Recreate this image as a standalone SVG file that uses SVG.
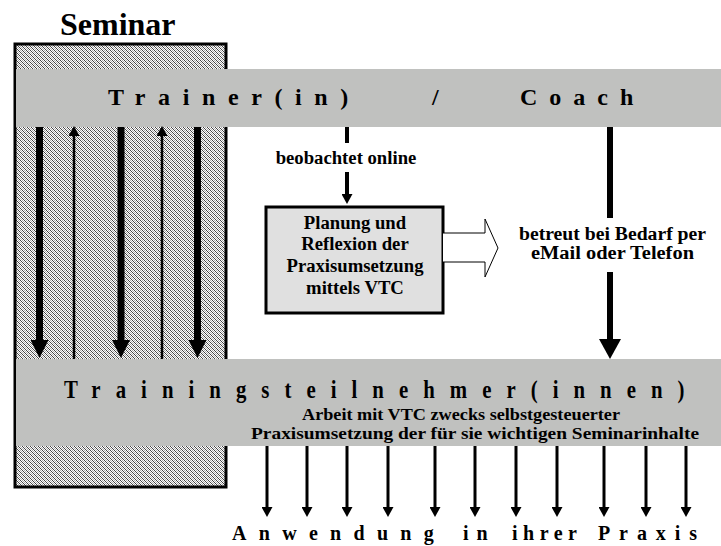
<svg xmlns="http://www.w3.org/2000/svg" width="721" height="546" viewBox="0 0 721 546">
<style>
text{font-family:'Liberation Serif','Times New Roman','DejaVu Serif',serif;font-weight:bold;fill:#000}
.bar{fill:#c0c1bf}
.t1{font-size:24px}
.t2{font-size:18.7px}
.t4{font-size:17px}
.t3{font-size:20px}
.c{stroke:#000;fill:none}
</style>
<defs>
<pattern id="dither" width="4" height="4" patternUnits="userSpaceOnUse">
<rect width="4" height="4" fill="#fff"/>
<path d="M0 0h1v1H0zM1 1h1v1H1zM2 2h1v1H2zM3 3h1v1H3z" fill="#444" shape-rendering="crispEdges"/>
<path d="M2 0h1v1H2zM3 1h1v1H3zM0 2h1v1H0zM1 3h1v1H1z" fill="#aaa" shape-rendering="crispEdges"/>
</pattern>
<marker id="hL" markerUnits="userSpaceOnUse" markerWidth="18" markerHeight="18" viewBox="0 -9 18 18" refX="0" refY="0" orient="auto"><path d="M0-9L18 0L0 9z" fill="#000"/></marker>
<marker id="hC" markerUnits="userSpaceOnUse" markerWidth="20" markerHeight="22" viewBox="0 -11 20 22" refX="0" refY="0" orient="auto"><path d="M0-11L20 0L0 11z" fill="#000"/></marker>
<marker id="hS" markerUnits="userSpaceOnUse" markerWidth="10" markerHeight="11" viewBox="0 -5.5 10 11" refX="0" refY="0" orient="auto"><path d="M0-5.5L10 0L0 5.5z" fill="#000"/></marker>
</defs>
<rect width="721" height="546" fill="#fff"/>

<g id="title"><text x="60" y="35" style="font-size:32px">Seminar</text></g>

<g id="seminar">
<rect x="15" y="44" width="211" height="443" fill="url(#dither)" stroke="#000" stroke-width="3"/>
</g>

<g id="trainer">
<rect class="bar" x="16" y="69" width="705" height="58"/>
<text class="t1" x="108" y="105" letter-spacing="12.6">Trainer(in)</text>
<text class="t1" x="432" y="105">/</text>
<text class="t1" x="520" y="105" letter-spacing="12">Coach</text>
</g>

<g id="teilnehmer">
<rect class="bar" x="16" y="359" width="705" height="87"/>
<text transform="translate(64,398) scale(0.8,1)" x="0" y="0" style="font-size:26px" letter-spacing="18.8">Trainingsteilnehmer(innen)</text>
<text class="t4" x="302" y="420" textLength="318" lengthAdjust="spacingAndGlyphs">Arbeit mit VTC zwecks selbstgesteuerter</text>
<text class="t4" x="251" y="439" textLength="448" lengthAdjust="spacingAndGlyphs">Praxisumsetzung der für sie wichtigen Seminarinhalte</text>
</g>

<g id="planung">
<rect x="266" y="207" width="177" height="106" fill="#e0e0e0" stroke="#000" stroke-width="3"/>
<text class="t2" x="355" y="229" text-anchor="middle">Planung und</text>
<text class="t2" x="355" y="250" text-anchor="middle">Reflexion der</text>
<text class="t2" x="355" y="272" text-anchor="middle">Praxisumsetzung</text>
<text class="t2" x="355" y="294" text-anchor="middle">mittels VTC</text>
</g>

<g id="labels">
<text class="t2" x="346" y="164" text-anchor="middle">beobachtet online</text>
<text class="t2" x="519" y="240" textLength="187" lengthAdjust="spacingAndGlyphs">betreut bei Bedarf per</text>
<text class="t2" x="531" y="259" textLength="163" lengthAdjust="spacingAndGlyphs">eMail oder Telefon</text>
</g>

<g id="praxis">
<text class="t3" x="232" y="540" letter-spacing="12.3">Anwendung</text>
<text class="t3" x="463" y="540" letter-spacing="8">in</text>
<text class="t3" x="512" y="540" letter-spacing="5.5">ihrer</text>
<text class="t3" x="598" y="540" letter-spacing="8.9">Praxis</text>
</g>

<g id="connectors">
<path class="c" stroke-width="7" marker-end="url(#hL)" d="M39.5 127V340"/>
<path class="c" stroke-width="7" marker-end="url(#hL)" d="M121 127V340"/>
<path class="c" stroke-width="7" marker-end="url(#hL)" d="M197.5 127V340"/>
<path class="c" stroke-width="2.5" marker-end="url(#hS)" d="M74 359V136"/>
<path class="c" stroke-width="2.5" marker-end="url(#hS)" d="M162 359V136"/>
<path class="c" stroke-width="4" d="M347 127V143"/>
<path class="c" stroke-width="4" marker-end="url(#hS)" d="M347 172V194"/>
<path class="c" stroke-width="6" d="M610 127V218"/>
<path class="c" stroke-width="6" marker-end="url(#hC)" d="M610 272V339"/>
<path d="M443 233H485V219L498 248L485 277V262H443" fill="#fff" stroke="#000" stroke-width="1"/>
<g class="c" stroke-width="3" marker-end="url(#hS)">
<path d="M267 446V507"/><path d="M307 446V507"/><path d="M347 446V507"/><path d="M388 446V507"/>
<path d="M435 446V507"/><path d="M475 446V507"/><path d="M516 446V507"/><path d="M557 446V507"/>
<path d="M604 446V507"/><path d="M646 446V507"/><path d="M686 446V507"/>
</g>
</g>
</svg>
